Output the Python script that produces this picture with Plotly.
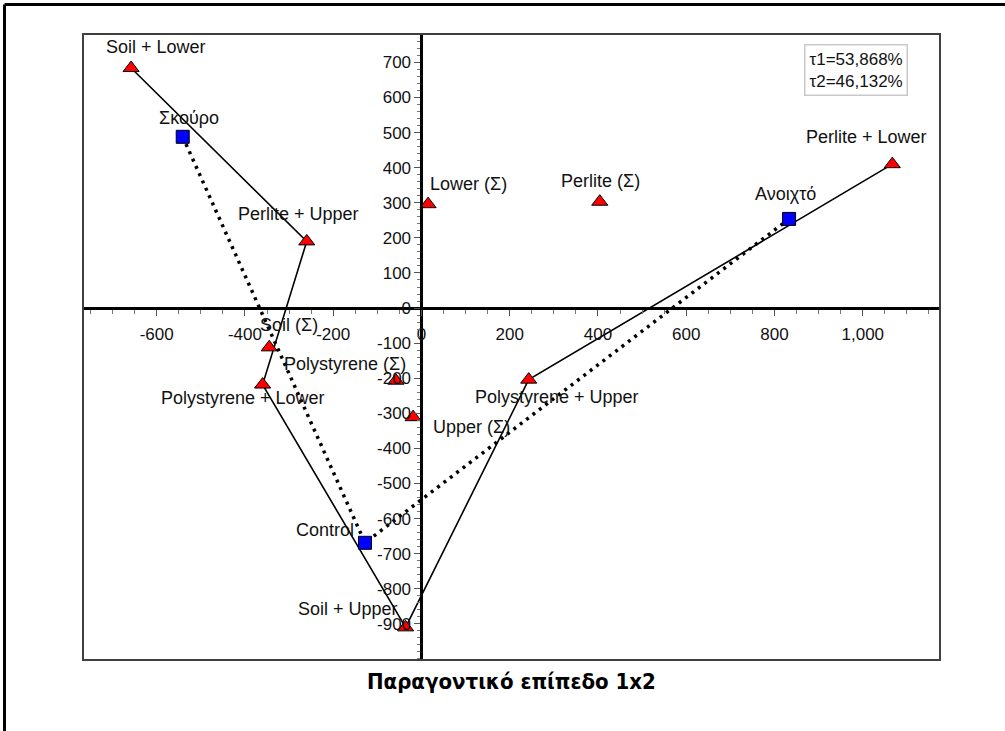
import plotly.graph_objects as go

# ---------------- data ----------------
tri_names = ["Soil + Lower", "Perlite + Upper", "Polystyrene + Lower", "Soil + Upper",
             "Polystyrene + Upper", "Perlite + Lower", "Soil (Σ)", "Polystyrene (Σ)",
             "Upper (Σ)", "Lower (Σ)", "Perlite (Σ)"]
tri_x = [-658, -260, -360, -36, 243, 1067, -345, -58, -19, 15, 404]
tri_y = [684, 190, -218, -910, -204, 410, -112, -207, -311, 296, 303]

sq_names = ["Σκούρο", "Control", "Ανοιχτό"]
sq_x = [-541, -128, 833]
sq_y = [488, -669, 254]

solid_path = [0, 1, 2, 3, 4, 5]   # indices into triangle arrays
dotted_path = [0, 1, 2]           # indices into square arrays

x_tickvals = [-600, -400, -200, 0, 200, 400, 600, 800, 1000]
x_ticktext = ["-600", "-400", "-200", "0", "200", "400", "600", "800", "1,000"]
y_tickvals = [-900, -800, -700, -600, -500, -400, -300, -200, -100, 0, 100, 200, 300, 400, 500, 600, 700]
y_ticktext = [str(v) for v in y_tickvals]

inertia_text = "τ1=53,868%<br>τ2=46,132%"
title_text = "Παραγοντικό επίπεδο 1x2"

# ---------------- styles / label offsets (px) ----------------
label_offsets = {
    "Soil + Lower": (25, 21), "Perlite + Upper": (-8, 27), "Polystyrene + Lower": (-20, -13),
    "Soil + Upper": (-58, 18), "Polystyrene + Upper": (28, -17), "Perlite + Lower": (-26, 27),
    "Soil (Σ)": (20, 22), "Polystyrene (Σ)": (-51, 17), "Upper (Σ)": (58, -10),
    "Lower (Σ)": (40, 20), "Perlite (Σ)": (1, 21), "Σκούρο": (6, 19),
    "Control": (-40, 13), "Ανοιχτό": (-4, 25),
}

X_RANGE = [-767, 1175]
Y_RANGE = [-1003, 781]
FONT = "Liberation Sans, Arial, sans-serif"

fig = go.Figure()

fig.add_trace(go.Scatter(
    x=[tri_x[i] for i in solid_path], y=[tri_y[i] for i in solid_path],
    mode="lines", line=dict(color="black", width=1.6), hoverinfo="skip", showlegend=False))
fig.add_trace(go.Scatter(
    x=[sq_x[i] for i in dotted_path], y=[sq_y[i] for i in dotted_path],
    mode="lines", line=dict(color="black", width=3.5, dash="3px,5px"), hoverinfo="skip", showlegend=False))
fig.add_trace(go.Scatter(
    x=tri_x, y=tri_y, mode="markers", text=tri_names,
    marker=dict(symbol="triangle-up", size=14, color="#ff0000", line=dict(color="black", width=1)),
    showlegend=False))
fig.add_trace(go.Scatter(
    x=sq_x, y=sq_y, mode="markers", text=sq_names,
    marker=dict(symbol="square", size=13, color="#0000ff", line=dict(color="black", width=1)),
    showlegend=False))

annotations = []
for names, xs, ys in ((tri_names, tri_x, tri_y), (sq_names, sq_x, sq_y)):
    for n, xv, yv in zip(names, xs, ys):
        dx, dy = label_offsets[n]
        annotations.append(dict(x=xv, y=yv, xref="x", yref="y", text=n, showarrow=False,
                                xanchor="center", yanchor="middle", xshift=dx, yshift=dy,
                                font=dict(family=FONT, size=18, color="#111111")))

annotations.append(dict(x=0.902, y=0.9425, xref="paper", yref="paper", text=inertia_text,
                        showarrow=False, xanchor="center", yanchor="middle", align="left",
                        bordercolor="#c8c8c8", borderwidth=1.5, borderpad=4, bgcolor="white",
                        font=dict(family=FONT, size=17, color="#111111")))
annotations.append(dict(x=0.5, y=-0.034, xref="paper", yref="paper", text="<b>" + title_text + "</b>",
                        showarrow=False, xanchor="center", yanchor="middle",
                        font=dict(family="Liberation Sans Narrow, DejaVu Sans Condensed, Arial Narrow, sans-serif",
                                  size=22, color="black")))

xpos = (0 - Y_RANGE[0]) / (Y_RANGE[1] - Y_RANGE[0])
ypos = (0 - X_RANGE[0]) / (X_RANGE[1] - X_RANGE[0])

fig.update_layout(
    width=1005, height=731,
    margin=dict(l=83, r=65, t=34, b=71),
    paper_bgcolor="white", plot_bgcolor="white",
    font=dict(family=FONT, size=17, color="#111111"),
    xaxis=dict(range=X_RANGE, anchor="free", position=xpos, showgrid=False, zeroline=False,
               showline=True, linecolor="black", linewidth=3,
               tickvals=x_tickvals, ticktext=x_ticktext, ticks="outside", ticklen=6, tickwidth=1,
               tickcolor="#555555", tickfont=dict(size=17, color="#111111"), ticklabelstandoff=4,
               minor=dict(dtick=50, ticks="outside", ticklen=4, tickcolor="#777777", showgrid=False)),
    yaxis=dict(range=Y_RANGE, anchor="free", position=ypos, showgrid=False, zeroline=False,
               showline=True, linecolor="black", linewidth=3,
               tickvals=y_tickvals, ticktext=y_ticktext, ticks="outside", ticklen=6, tickwidth=1,
               tickcolor="#555555", tickfont=dict(size=17, color="#111111"),
               minor=dict(dtick=20, ticks="outside", ticklen=3, tickcolor="#777777", showgrid=False)),
    annotations=annotations,
    shapes=[
        dict(type="rect", xref="paper", yref="paper", x0=0, x1=1, y0=0, y1=1,
             line=dict(color="#404040", width=2), layer="above"),
        dict(type="line", xref="paper", yref="paper", x0=-0.0916, x1=-0.0916, y0=-0.12, y1=1.0471,
             line=dict(color="black", width=3)),
        dict(type="line", xref="paper", yref="paper", x0=-0.0916, x1=1.08, y0=1.0471, y1=1.0471,
             line=dict(color="black", width=3)),
    ],
)

fig.write_html("out.html")
